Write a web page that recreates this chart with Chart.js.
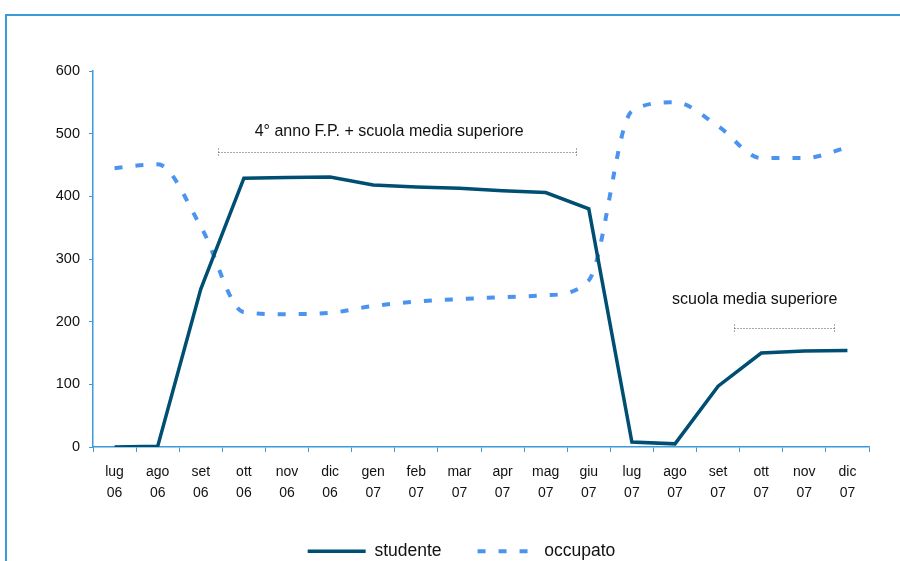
<!DOCTYPE html>
<html>
<head>
<meta charset="utf-8">
<script src="https://cdn.jsdelivr.net/npm/chart.js@4"></script>
<style>
  html, body { margin: 0; padding: 0; background: #fff; overflow: hidden; }
  #frame { position: absolute; left: 5px; top: 14px; width: 920px; height: 600px;
           border-left: 2px solid #3b9ad8; border-top: 2px solid #3b9ad8; }
  #wrap { position: absolute; left: 0; top: 0; width: 900px; height: 561px; overflow: hidden; }
</style>
</head>
<body>
<div id="frame"></div>
<div id="wrap"><canvas id="chart" width="900" height="570"></canvas></div>
<script>
const months = ['lug', 'ago', 'set', 'ott', 'nov', 'dic', 'gen', 'feb', 'mar', 'apr', 'mag', 'giu',
                'lug', 'ago', 'set', 'ott', 'nov', 'dic'];
const years = ['06', '06', '06', '06', '06', '06', '07', '07', '07', '07', '07', '07',
               '07', '07', '07', '07', '07', '07'];
const studente = [0, 1, 252, 429, 430, 431, 418, 415, 413, 409, 406, 380, 8, 5, 97, 150, 153, 154];
const occupato = [445, 451, 352, 215, 212, 214, 225, 232, 236, 239, 242, 266, 536, 550, 512, 461, 461, 478];
const yTicks = [0, 100, 200, 300, 400, 500, 600];

// period notes: text + dotted bracket (x in category index units, y in data units)
const notes = [
  { text: '4° anno F.P. + scuola media superiore', tx: 6.37, ty: 504, from: 2.4, to: 10.7, y: 470 },
  { text: 'scuola media superiore', tx: 14.85, ty: 236, from: 14.36, to: 16.68, y: 190 }
];

const axisColor = '#3b9ad8';
const font = 'Liberation Sans, Arial, sans-serif';

const notesPlugin = {
  id: 'notes',
  afterDatasetsDraw(chart) {
    const { ctx, scales: { x, y } } = chart;
    ctx.save();
    notes.forEach(n => {
      ctx.fillStyle = '#111';
      ctx.font = '16px ' + font;
      ctx.textAlign = 'center';
      ctx.textBaseline = 'middle';
      ctx.fillText(n.text, x.getPixelForValue(n.tx), y.getPixelForValue(n.ty));
      const x1 = Math.round(x.getPixelForValue(n.from)) + 0.5;
      const x2 = Math.round(x.getPixelForValue(n.to)) + 0.5;
      const yy = Math.round(y.getPixelForValue(n.y)) + 0.5;
      ctx.strokeStyle = '#555';
      ctx.lineWidth = 1;
      ctx.setLineDash([1, 2]);
      ctx.beginPath();
      ctx.moveTo(x1, yy); ctx.lineTo(x2, yy);
      ctx.moveTo(x1, yy - 4); ctx.lineTo(x1, yy + 5);
      ctx.moveTo(x2, yy - 4); ctx.lineTo(x2, yy + 5);
      ctx.stroke();
    });
    ctx.restore();
  }
};

new Chart(document.getElementById('chart'), {
  type: 'line',
  data: {
    labels: months.map((m, i) => [m, years[i]]),
    datasets: [{
      label: 'studente',
      data: studente,
      borderColor: '#004f72',
      backgroundColor: '#004f72',
      borderWidth: 3.5,
      pointRadius: 0,
      tension: 0
    }, {
      label: 'occupato',
      data: occupato,
      borderColor: '#4a94f0',
      backgroundColor: '#4a94f0',
      borderWidth: 4,
      borderDash: [8, 13],
      pointRadius: 0,
      cubicInterpolationMode: 'monotone'
    }]
  },
  options: {
    responsive: false,
    animation: false,
    layout: { padding: { left: 54, right: 31, top: 71, bottom: 0 } },
    scales: {
      x: {
        offset: true,
        grid: { offset: true, drawOnChartArea: false, drawTicks: true, tickLength: 5, color: axisColor },
        border: { color: axisColor, width: 1.5 },
        ticks: { color: '#111', font: { family: font, size: 14, lineHeight: 1.55 }, padding: 9,
                 maxRotation: 0, autoSkip: false },
        afterFit: s => { s.height = 59.5; }
      },
      y: {
        min: 0,
        max: 600,
        afterBuildTicks: s => { s.ticks = yTicks.map(v => ({ value: v })); },
        grid: { drawOnChartArea: false, drawTicks: true, tickLength: 4, color: axisColor },
        border: { color: axisColor, width: 1.5 },
        ticks: { color: '#111', font: { family: font, size: 14.5 }, padding: 9 },
        afterFit: s => { s.width = 39; }
      }
    },
    plugins: {
      legend: {
        position: 'bottom',
        labels: {
          usePointStyle: true,
          pointStyle: 'line',
          pointStyleWidth: 58,
          color: '#111',
          font: { family: font, size: 17.5 },
          padding: 36,
          generateLabels: chart => Chart.defaults.plugins.legend.labels.generateLabels(chart).map(item => {
            const ds = chart.data.datasets[item.datasetIndex];
            item.lineDash = ds.borderDash || [];
            item.lineWidth = ds.borderWidth;
            item.strokeStyle = ds.borderColor;
            return item;
          })
        }
      },
      tooltip: { enabled: false }
    }
  },
  plugins: [notesPlugin]
});
</script>
</body>
</html>
